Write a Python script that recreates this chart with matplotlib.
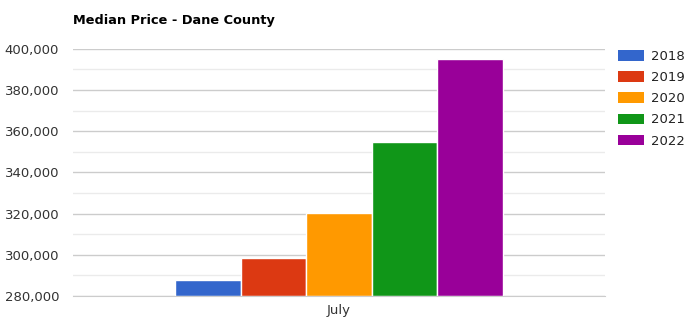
import matplotlib
matplotlib.use("Agg")
import matplotlib.pyplot as plt
from matplotlib.patches import Patch
from matplotlib.ticker import FuncFormatter, MultipleLocator

categories = ["July"]
years = ["2018", "2019", "2020", "2021", "2022"]
prices = [287800, 298600, 320300, 354800, 395200]
colors = ["#3366cc", "#dc3912", "#ff9900", "#109618", "#990099"]

fig = plt.figure(figsize=(6.96, 3.26), dpi=100)
ax = fig.add_axes([0.105, 0.092, 0.764, 0.758])

group_w = 0.617
bar_w = group_w / len(years)
for i, (yr, val, col) in enumerate(zip(years, prices, colors)):
    x = -group_w / 2 + bar_w * (i + 0.5)
    ax.bar(x, val - 280000, bottom=280000, width=bar_w, color=col,
           edgecolor="white", linewidth=1, zorder=3)

ax.set_xlim(-0.5, 0.5)
ax.set_ylim(280000, 400000)
ax.set_xticks([0])
ax.set_xticklabels(categories)
ax.yaxis.set_major_locator(MultipleLocator(20000))
ax.yaxis.set_minor_locator(MultipleLocator(10000))
ax.yaxis.set_major_formatter(FuncFormatter(lambda v, p: f"{int(v):,}"))
ax.grid(which="major", axis="y", color="#cccccc", linewidth=1, zorder=0)
ax.grid(which="minor", axis="y", color="#ebebeb", linewidth=1, zorder=0)
ax.tick_params(which="both", length=0, labelsize=9.5, labelcolor="#333333")
ax.tick_params(axis="y", pad=10)
ax.tick_params(axis="x", pad=6)
for name, s in ax.spines.items():
    s.set_visible(name == "bottom")
ax.spines["bottom"].set_color("#cccccc")
ax.spines["bottom"].set_zorder(4)

fig.text(0.105, 0.937, "Median Price - Dane County", fontsize=9.3,
         fontweight="bold", color="#000000", va="center")

handles = [Patch(facecolor=c, edgecolor="none") for c in colors]
fig.legend(handles, years, loc="upper left", bbox_to_anchor=(0.881, 0.863),
           frameon=False, fontsize=9.5, handlelength=1.97, handleheight=0.85,
           handletextpad=0.5, labelspacing=0.62, borderaxespad=0,
           labelcolor="#222222")

fig.savefig("out.png", dpi=100)
